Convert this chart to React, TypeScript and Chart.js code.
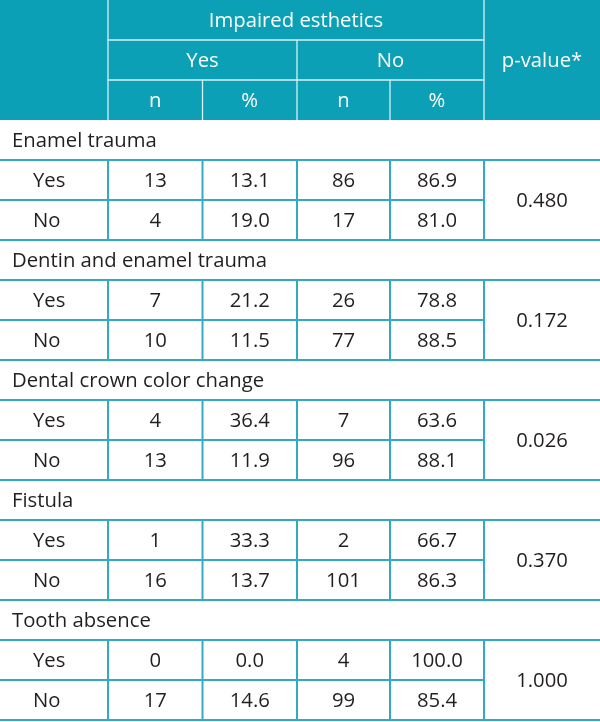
import React, { useEffect, useRef } from "react";
import { Chart, registerables } from "chart.js";

Chart.register(...registerables);

// ---- Data ----
const categories = [
  "Enamel trauma",
  "Dentin and enamel trauma",
  "Dental crown color change",
  "Fistula",
  "Tooth absence",
];
const answerLabels = ["Yes", "No"];
const headerTop = "Impaired esthetics";
const headerGroups = ["Yes", "No"];
const headerSub = ["n", "%", "n", "%"];
const pHeader = "p-value*";

// per category: [Yes row, No row]
const impairedYesN = [13, 4, 7, 10, 4, 13, 1, 16, 0, 17];
const impairedYesPct = [13.1, 19.0, 21.2, 11.5, 36.4, 11.9, 33.3, 13.7, 0.0, 14.6];
const impairedNoN = [86, 17, 26, 77, 7, 96, 2, 101, 4, 99];
const impairedNoPct = [86.9, 81.0, 78.8, 88.5, 63.6, 88.1, 66.7, 86.3, 100.0, 85.4];
const pValues = [0.48, 0.172, 0.026, 0.37, 1.0];

// ---- Layout / style ----
const COL_EDGES = [0, 108, 202.5, 297, 390, 484, 600];
const ROW_PX = 40;
const HEADER_ROWS = 3;
const HEADER_BG = "#0ba0b6";
const HEADER_LINE = "#d8f1f5";
const BODY_LINE = "#32aac4";
const TEXT = "#231f20";
const FONT = "'Open Sans', 'Noto Sans', sans-serif";
const FONT_SIZE = 20.3;

const tablePlugin = {
  id: "tablePlugin",
  afterDraw(chart: any) {
    const ctx = chart.ctx as CanvasRenderingContext2D;
    const xs = chart.scales.x;
    const ys = chart.scales.y;
    const X = (v: number) => xs.getPixelForValue(v);
    const Y = (r: number) => ys.getPixelForValue(r);

    const line = (x1: number, y1: number, x2: number, y2: number, color: string, w: number) => {
      ctx.save();
      ctx.strokeStyle = color;
      ctx.lineWidth = w;
      ctx.beginPath();
      ctx.moveTo(X(x1), Y(y1));
      ctx.lineTo(X(x2), Y(y2));
      ctx.stroke();
      ctx.restore();
    };
    const text = (s: string, x: number, r: number, color: string, align: CanvasTextAlign) => {
      ctx.save();
      ctx.fillStyle = color;
      ctx.font = `${FONT_SIZE}px ${FONT}`;
      ctx.textAlign = align;
      ctx.textBaseline = "middle";
      ctx.fillText(s, X(x), Y(r) + 1);
      ctx.restore();
    };
    const mid = (a: number, b: number) => (COL_EDGES[a] + COL_EDGES[b]) / 2;

    // header background
    ctx.save();
    ctx.fillStyle = HEADER_BG;
    ctx.fillRect(X(0), Y(0), X(600) - X(0), Y(HEADER_ROWS) - Y(0));
    ctx.restore();

    // header lines
    const hw = 1.3;
    line(COL_EDGES[1], 0, COL_EDGES[1], HEADER_ROWS, HEADER_LINE, hw);
    line(COL_EDGES[5], 0, COL_EDGES[5], HEADER_ROWS, HEADER_LINE, hw);
    line(COL_EDGES[1], 1, COL_EDGES[5], 1, HEADER_LINE, hw);
    line(COL_EDGES[1], 2, COL_EDGES[5], 2, HEADER_LINE, hw);
    line(COL_EDGES[3], 1, COL_EDGES[3], HEADER_ROWS, HEADER_LINE, hw);
    line(COL_EDGES[2], 2, COL_EDGES[2], HEADER_ROWS, HEADER_LINE, hw);
    line(COL_EDGES[4], 2, COL_EDGES[4], HEADER_ROWS, HEADER_LINE, hw);

    // header text
    text(headerTop, mid(1, 5), 0.5, "#ffffff", "center");
    text(headerGroups[0], mid(1, 3), 1.5, "#ffffff", "center");
    text(headerGroups[1], mid(3, 5), 1.5, "#ffffff", "center");
    headerSub.forEach((s, i) => text(s, mid(i + 1, i + 2), 2.5, "#ffffff", "center"));
    text(pHeader, mid(5, 6), 1.5, "#ffffff", "center");

    // body
    const bw = 2;
    categories.forEach((cat, i) => {
      const base = HEADER_ROWS + 3 * i;
      text(cat, 12, base + 0.5, TEXT, "left");
      line(0, base + 1, 600, base + 1, BODY_LINE, bw);
      line(0, base + 2, COL_EDGES[5], base + 2, BODY_LINE, bw);
      line(0, base + 3, 600, base + 3, BODY_LINE, bw);
      for (let c = 1; c <= 5; c++) {
        line(COL_EDGES[c], base + 1, COL_EDGES[c], base + 3, BODY_LINE, bw);
      }
      for (let k = 0; k < 2; k++) {
        const idx = 2 * i + k;
        const r = base + 1.5 + k;
        text(answerLabels[k], 33, r, TEXT, "left");
        text(String(impairedYesN[idx]), mid(1, 2), r, TEXT, "center");
        text(impairedYesPct[idx].toFixed(1), mid(2, 3), r, TEXT, "center");
        text(String(impairedNoN[idx]), mid(3, 4), r, TEXT, "center");
        text(impairedNoPct[idx].toFixed(1), mid(4, 5), r, TEXT, "center");
      }
      text(pValues[i].toFixed(3), mid(5, 6), base + 2, TEXT, "center");
    });
  },
};

export default function App() {
  const ref = useRef<HTMLCanvasElement>(null);
  useEffect(() => {
    document.body.style.margin = "0";
    const canvas = ref.current!;
    const chart = new Chart(canvas, {
      type: "scatter",
      data: { datasets: [] },
      options: {
        animation: false,
        responsive: false,
        devicePixelRatio: 1,
        layout: { padding: 0 },
        plugins: { legend: { display: false }, tooltip: { enabled: false }, title: { display: false } },
        scales: {
          x: { type: "linear", min: 0, max: 600, display: false },
          y: { type: "linear", min: 0, max: 722 / ROW_PX, reverse: true, display: false },
        },
      },
      plugins: [tablePlugin],
    });
    return () => chart.destroy();
  }, []);
  return (
    <div style={{ width: 600, height: 722, background: "#ffffff" }}>
      <canvas ref={ref} width={600} height={722} style={{ display: "block" }} />
    </div>
  );
}
